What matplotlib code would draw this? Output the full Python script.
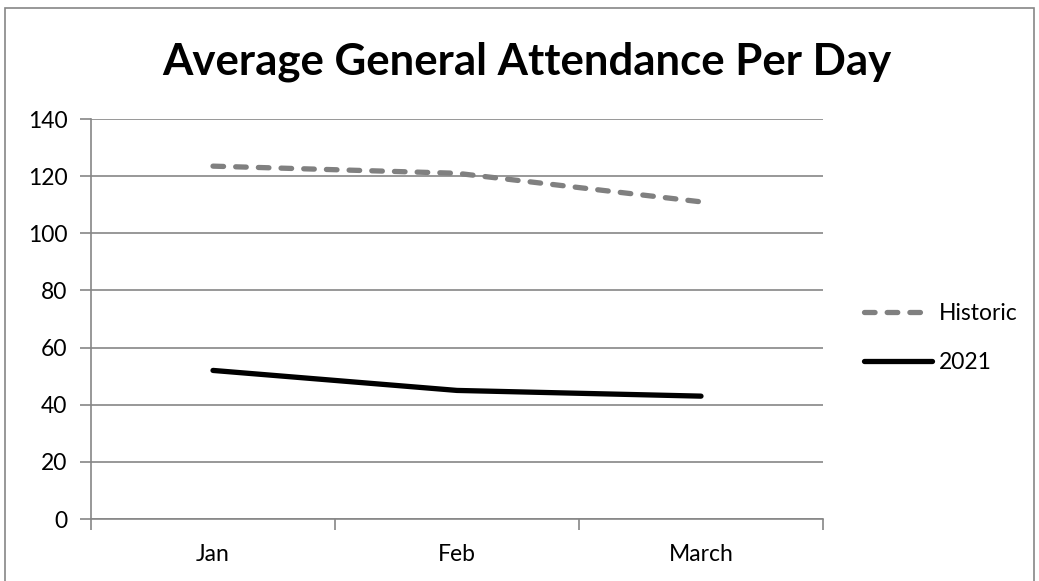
import matplotlib.pyplot as plt
from matplotlib.lines import Line2D
from matplotlib.patches import Rectangle

plt.rcParams['font.family'] = ['Lato', 'DejaVu Sans']

months = ['Jan', 'Feb', 'March']
historic = [123.5, 121, 111]
y2021 = [52, 45, 43]

fig = plt.figure(figsize=(10.39, 5.81), dpi=100)
ax = fig.add_axes([91 / 1039, 1 - 519 / 581, 732 / 1039, 400 / 581])

dash = (0, (2.0, 2.3))
x = range(len(months))
ax.plot(x, historic, color='#808080', lw=3.8, ls=dash,
        dash_capstyle='round', solid_capstyle='round', label='Historic')
ax.plot(x, y2021, color='black', lw=3.8, solid_capstyle='round', label='2021')

ax.set_xlim(-0.5, 2.5)
ax.set_ylim(0, 140)
ax.set_yticks(range(0, 141, 20))
ax.set_xticks(x)
ax.set_xticklabels(months)
ax.set_xticks([-0.5, 0.5, 1.5, 2.5], minor=True)
ax.tick_params(axis='x', which='major', length=0, pad=18, labelsize=16.5)
ax.tick_params(axis='x', which='minor', length=8, width=1.2, color='#868686')
ax.tick_params(axis='y', length=8, width=1.2, color='#868686', labelsize=16.5, pad=9)
ax.grid(axis='y', color='#868686', lw=1.2)
ax.set_axisbelow(True)
for s in ['top', 'right']:
    ax.spines[s].set_visible(False)
for s in ['left', 'bottom']:
    ax.spines[s].set_color('#868686')
    ax.spines[s].set_linewidth(1.2)

fig.text(527 / 1039, 1 - 62 / 581, 'Average General Attendance Per Day',
         ha='center', va='center', fontsize=31.5, fontweight='bold')

handles = [Line2D([], [], color='#808080', lw=3.8, ls=dash, dash_capstyle='round'),
           Line2D([], [], color='black', lw=3.8, solid_capstyle='round')]
fig.legend(handles, ['Historic', '2021'], loc='center left',
           bbox_to_anchor=(843 / 1039, 1 - 338 / 581), frameon=False,
           fontsize=16.5, handlelength=3.0, handletextpad=0.3, labelspacing=1.2)

fig.patches.append(Rectangle((5 / 1039, -0.05), 1029 / 1039, 1 - 8 / 581 + 0.05,
                             transform=fig.transFigure, fill=False,
                             edgecolor='#868686', lw=1.2))

fig.savefig('out.png', dpi=100)
